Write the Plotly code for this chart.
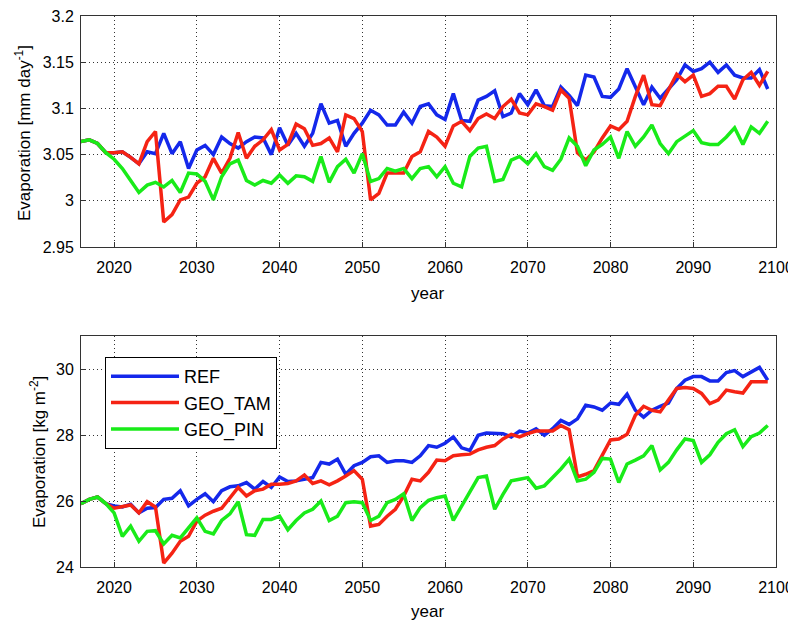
import plotly.graph_objects as go

years = list(range(2016, 2100))

# Top panel: Evaporation [mm day-1]
ref_top = [3.064, 3.066, 3.062, 3.052, 3.052, 3.053, 3.047, 3.040, 3.053, 3.051,
           3.073, 3.051, 3.064, 3.035, 3.055, 3.060, 3.050, 3.069, 3.062, 3.057,
           3.064, 3.069, 3.068, 3.050, 3.079, 3.060, 3.073, 3.059, 3.073, 3.105,
           3.084, 3.087, 3.059, 3.073, 3.084, 3.098, 3.093, 3.082, 3.082, 3.096,
           3.084, 3.102, 3.105, 3.093, 3.088, 3.116, 3.087, 3.086, 3.109, 3.113,
           3.119, 3.091, 3.095, 3.116, 3.104, 3.120, 3.103, 3.102, 3.123, 3.114,
           3.103, 3.136, 3.134, 3.113, 3.112, 3.121, 3.143, 3.123, 3.104, 3.123,
           3.111, 3.121, 3.131, 3.147, 3.140, 3.143, 3.150, 3.139, 3.147, 3.136,
           3.133, 3.133, 3.142, 3.121]
tam_top = [3.064, 3.066, 3.062, 3.052, 3.052, 3.053, 3.047, 3.040, 3.064, 3.075,
           2.977, 2.985, 3.001, 3.004, 3.019, 3.026, 3.046, 3.030, 3.046, 3.074,
           3.046, 3.059, 3.066, 3.077, 3.055, 3.061, 3.083, 3.078, 3.060, 3.062,
           3.068, 3.053, 3.093, 3.089, 3.075, 3.001, 3.008, 3.030, 3.030, 3.030,
           3.048, 3.053, 3.075, 3.069, 3.059, 3.081, 3.086, 3.076, 3.089, 3.094,
           3.089, 3.102, 3.110, 3.095, 3.093, 3.105, 3.102, 3.098, 3.120, 3.111,
           3.052, 3.044, 3.053, 3.068, 3.081, 3.077, 3.086, 3.113, 3.136, 3.104,
           3.103, 3.120, 3.137, 3.129, 3.136, 3.113, 3.116, 3.124, 3.124, 3.110,
           3.131, 3.139, 3.125, 3.140]
pin_top = [3.064, 3.066, 3.062, 3.052, 3.045, 3.035, 3.022, 3.009, 3.017, 3.020,
           3.015, 3.022, 3.009, 3.030, 3.029, 3.021, 3.001, 3.026, 3.040, 3.044,
           3.022, 3.017, 3.022, 3.019, 3.028, 3.019, 3.027, 3.026, 3.021, 3.048,
           3.020, 3.037, 3.045, 3.030, 3.051, 3.021, 3.024, 3.035, 3.032, 3.035,
           3.024, 3.035, 3.037, 3.026, 3.037, 3.019, 3.015, 3.048, 3.057, 3.059,
           3.021, 3.023, 3.044, 3.048, 3.040, 3.051, 3.037, 3.033, 3.045, 3.068,
           3.059, 3.038, 3.055, 3.061, 3.069, 3.046, 3.075, 3.059, 3.069, 3.082,
           3.062, 3.051, 3.064, 3.070, 3.076, 3.063, 3.061, 3.061, 3.069, 3.079,
           3.061, 3.080, 3.073, 3.086]

# Bottom panel: Evaporation [kg m-2]
ref_bot = [25.92, 26.05, 26.12, 25.92, 25.85, 25.82, 25.90, 25.64, 25.78, 25.80,
           26.05, 26.08, 26.31, 25.85, 26.05, 26.22, 25.98, 26.31, 26.43, 26.46,
           26.56, 26.36, 26.59, 26.41, 26.73, 26.59, 26.61, 26.66, 26.71, 27.17,
           27.12, 27.27, 26.81, 27.07, 27.17, 27.34, 27.37, 27.17, 27.22, 27.22,
           27.17, 27.37, 27.68, 27.63, 27.75, 27.94, 27.61, 27.53, 27.99, 28.06,
           28.04, 28.04, 27.94, 28.12, 28.06, 28.19, 27.99, 28.19, 28.44, 28.32,
           28.49, 28.90, 28.85, 28.75, 28.97, 28.93, 29.24, 28.75, 28.54, 28.75,
           28.87, 28.97, 29.41, 29.66, 29.77, 29.77, 29.64, 29.64, 29.89, 29.95,
           29.77, 29.92, 30.05, 29.66]
tam_bot = [25.92, 26.05, 26.12, 25.92, 25.78, 25.82, 25.88, 25.64, 25.98, 25.82,
           24.12, 24.42, 24.78, 24.93, 25.39, 25.57, 25.69, 25.78, 26.10, 26.41,
           26.15, 26.31, 26.36, 26.51, 26.51, 26.53, 26.61, 26.79, 26.53, 26.61,
           26.49, 26.61, 26.76, 26.92, 26.66, 25.24, 25.29, 25.54, 25.75, 26.15,
           26.66, 26.61, 26.87, 27.24, 27.22, 27.37, 27.40, 27.42, 27.55, 27.63,
           27.68, 27.88, 28.02, 27.94, 28.04, 28.12, 28.12, 28.12, 28.29, 28.16,
           26.73, 26.81, 26.92, 27.37, 27.85, 27.88, 28.02, 28.60, 28.87, 28.75,
           28.70, 29.06, 29.41, 29.44, 29.41, 29.26, 28.95, 29.06, 29.36, 29.31,
           29.27, 29.61, 29.61, 29.61]
pin_bot = [25.92, 26.05, 26.12, 25.92, 25.64, 24.93, 25.24, 24.78, 25.08, 25.10,
           24.70, 24.96, 24.88, 25.19, 25.49, 25.08, 25.00, 25.41, 25.61, 25.98,
           24.98, 24.96, 25.44, 25.44, 25.54, 25.13, 25.41, 25.64, 25.75, 26.00,
           25.41, 25.54, 25.95, 25.98, 25.95, 25.41, 25.54, 25.95, 26.05, 26.22,
           25.41, 25.80, 26.02, 26.10, 26.15, 25.41, 25.85, 26.31, 26.71, 26.76,
           25.75, 26.20, 26.61, 26.66, 26.71, 26.39, 26.46, 26.71, 26.97, 27.27,
           26.61, 26.66, 26.87, 27.29, 27.27, 26.56, 27.12, 27.24, 27.37, 27.68,
           26.94, 27.17, 27.55, 27.88, 27.83, 27.17, 27.40, 27.78, 28.04, 28.16,
           27.65, 27.95, 28.06, 28.29]

names = ["REF", "GEO_TAM", "GEO_PIN"]
colors = ["rgb(20,40,235)", "rgb(245,35,20)", "rgb(25,235,25)"]
top_series = [ref_top, tam_top, pin_top]
bot_series = [ref_bot, tam_bot, pin_bot]

x_ticks = [2020, 2030, 2040, 2050, 2060, 2070, 2080, 2090, 2100]
top_ticks = [2.95, 3.0, 3.05, 3.1, 3.15, 3.2]
top_ticktext = ["2.95", "3", "3.05", "3.1", "3.15", "3.2"]
bot_ticks = [24, 26, 28, 30]

FONT = "Liberation Sans, Arial, sans-serif"

fig = go.Figure()
for name, col, ys in zip(names, colors, top_series):
    fig.add_trace(go.Scatter(x=years, y=ys, mode="lines", name=name,
                             line=dict(color=col, width=3.5),
                             xaxis="x", yaxis="y", showlegend=False))
for name, col, ys in zip(names, colors, bot_series):
    fig.add_trace(go.Scatter(x=years, y=ys, mode="lines", name=name,
                             line=dict(color=col, width=3.5),
                             xaxis="x2", yaxis="y2", showlegend=True))

H_TOT = 551.0
top_lo = (567 - 247) / H_TOT
bot_hi = (567 - 336) / H_TOT

axis_common = dict(showline=True, linecolor="#333", linewidth=1, mirror=True,
                   ticks="inside", ticklen=5, tickcolor="#333",
                   showgrid=True, gridcolor="rgba(0,0,0,0.8)", griddash="1px,3px",
                   gridwidth=1, zeroline=False, automargin=False,
                   ticklabeloverflow="allow",
                   tickfont=dict(family=FONT, size=16, color="black"))

fig.update_layout(
    width=796, height=621,
    margin=dict(l=73, r=28, t=8, b=62),
    paper_bgcolor="white", plot_bgcolor="white",
    xaxis=dict(domain=[0, 1], range=[2016, 2100], tickvals=x_ticks,
               anchor="y", ticklabelstandoff=6, **axis_common),
    yaxis=dict(domain=[top_lo, 1], range=[2.95, 3.2], tickvals=top_ticks,
               ticktext=top_ticktext, anchor="x", ticklabelstandoff=3, **axis_common),
    xaxis2=dict(domain=[0, 1], range=[2016, 2100], tickvals=x_ticks,
                anchor="y2", ticklabelstandoff=6, **axis_common),
    yaxis2=dict(domain=[0, bot_hi], range=[24, 31], tickvals=bot_ticks,
                anchor="x2", ticklabelstandoff=3, **axis_common),
    legend=dict(x=(105 - 81) / 695.0, y=(567 - 357) / H_TOT, xanchor="left",
                yanchor="top", bgcolor="white", bordercolor="black", borderwidth=1,
                font=dict(family=FONT, size=18, color="black"),
                itemwidth=68, tracegroupgap=0),
    showlegend=True,
)

ann_font = dict(family=FONT, size=17, color="black")
fig.add_annotation(text="Evaporation [mm day<sup>-1</sup>]", textangle=-90,
                   xref="paper", yref="paper", x=(23 - 81) / 695.0,
                   y=(567 - 133) / H_TOT, xanchor="center", yanchor="middle",
                   showarrow=False, font=ann_font)
fig.add_annotation(text="Evaporation [kg m<sup>-2</sup>]", textangle=-90,
                   xref="paper", yref="paper", x=(38 - 81) / 695.0,
                   y=(567 - 452) / H_TOT, xanchor="center", yanchor="middle",
                   showarrow=False, font=ann_font)
fig.add_annotation(text="year", xref="paper", yref="paper", x=(427 - 81) / 695.0,
                   y=(567 - 293) / H_TOT, xanchor="center", yanchor="middle",
                   showarrow=False, font=ann_font)
fig.add_annotation(text="year", xref="paper", yref="paper", x=(427 - 81) / 695.0,
                   y=(567 - 611) / H_TOT, xanchor="center", yanchor="middle",
                   showarrow=False, font=ann_font)

fig.write_html("out.html")
